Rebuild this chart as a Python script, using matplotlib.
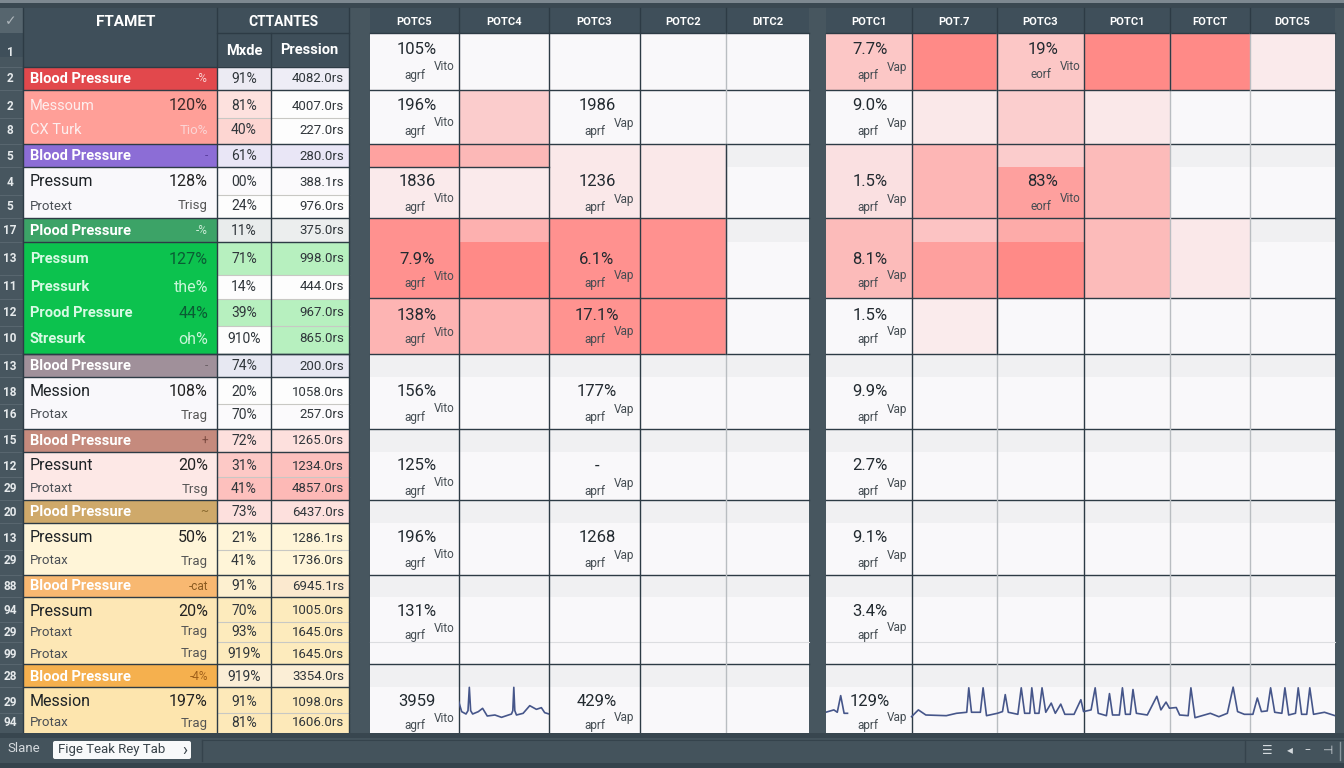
import numpy as np
import matplotlib
matplotlib.use("Agg")
import matplotlib.pyplot as plt
from matplotlib.colors import LinearSegmentedColormap, Normalize
from matplotlib.patches import FancyBboxPatch

# left table
row_numbers = ["2", "2", "8", "5", "4", "5", "17", "13", "11", "12", "10", "13", "18", "16",
               "15", "12", "29", "20", "13", "29", "88", "94", "29", "99", "28", "29", "94"]
names = ["Blood Pressure", "Messoum", "CX Turk", "Blood Pressure", "Pressum", "Protext",
         "Plood Pressure", "Pressum", "Pressurk", "Prood Pressure", "Stresurk",
         "Blood Pressure", "Mession", "Protax", "Blood Pressure", "Pressunt", "Protaxt",
         "Plood Pressure", "Pressum", "Protax", "Blood Pressure", "Pressum", "Protaxt", "Protax",
         "Blood Pressure", "Mession", "Protax"]
tags = ["-%", "120%", "Tio%", "-", "128%", "Trisg", "-%", "127%", "the%", "44%", "oh%",
        "-", "108%", "Trag", "+", "20%", "Trsg", "~", "50%", "Trag", "-cat", "20%", "Trag", "Trag",
        "-4%", "197%", "Trag"]
mode_vals = ["91%", "81%", "40%", "61%", "00%", "24%", "11%", "71%", "14%", "39%", "910%",
             "74%", "20%", "70%", "72%", "31%", "41%", "73%", "21%", "41%", "91%", "70%", "93%",
             "919%", "919%", "91%", "81%"]
pressure_vals = ["4082.0rs", "4007.0rs", "227.0rs", "280.0rs", "388.1rs", "976.0rs", "375.0rs",
                 "998.0rs", "444.0rs", "967.0rs", "865.0rs", "200.0rs", "1058.0rs", "257.0rs",
                 "1265.0rs", "1234.0rs", "4857.0rs", "6437.0rs", "1286.1rs", "1736.0rs",
                 "6945.1rs", "1005.0rs", "1645.0rs", "1645.0rs", "3354.0rs", "1098.0rs", "1606.0rs"]

# heat grids, -20 is the grey band
heat_a = [[0, 0, 0, 0, 0],
          [0, 40, 0, 0, 0],
          [78, 58, 15, 15, -20],
          [13, 13, 15, 15, 0],
          [93, 65, 93, 93, -20],
          [93, 100, 93, 93, 0],
          [62, 62, 92, 95, 0]]
heat_b = [[45, 100, 45, 100, 100, 13],
          [0, 15, 38, 15, 0, 0],
          [22, 60, 40, 55, -20, -20],
          [22, 60, 80, 55, 0, 0],
          [55, 48, 70, 55, 15, -20],
          [55, 80, 100, 55, 15, 0],
          [0, 12, 0, 0, 0, 0]]
heat_lower = [-20, 0, -20, 0, -20, 0, -20, 0, 0, -20, 0]

a_col0 = ["105%", "196%", "1836", "7.9%", "138%", "156%", "125%", "196%", "131%", "3959"]
a_col2 = ["", "1986", "1236", "6.1%", "17.1%", "177%", "-", "1268", "", "429%"]
b_col0 = ["7.7%", "9.0%", "1.5%", "8.1%", "1.5%", "9.9%", "2.7%", "9.1%", "3.4%", "129%"]
b_col2 = ["19%", "", "83%", "", "", "", "", "", "", ""]

head_a = ["POTC5", "POTC4", "POTC3", "POTC2", "DITC2"]
head_b = ["POTC1", "POT.7", "POTC3", "POTC1", "FOTCT", "DOTC5"]

# traces
trace_a_t = [296, 305, 318, 324, 328, 332, 338, 355, 368, 382, 405, 425, 455, 459, 462, 465, 470, 490,
             510, 530, 545, 555, 568]
trace_a_v = [47, 17, 10, 20, 90, 20, 10, 17, 27, 4, 7, 0, 10, 20, 90, 20, 7, 12, 35, 24, 29, 14, 10]
trace_b0_t = [46, 70, 80, 90, 100, 110]
trace_b0_v = [18, 25, 18, 67, 15, 15]
trace_b_t = [298, 318, 340, 400, 430, 460, 466, 474, 500, 508, 518, 550, 565, 573, 582, 610, 620, 630,
             645, 651, 660, 672, 681, 692, 708, 720, 736, 748, 775, 795, 803, 825, 837, 846, 870,
             879, 888, 908, 917, 926, 940, 948, 958, 990, 1018, 1030, 1045, 1055, 1075, 1085,
             1110, 1118, 1130, 1175, 1200, 1225, 1242, 1255, 1275, 1300, 1313, 1325, 1342, 1352,
             1364, 1385, 1394, 1405, 1425, 1433, 1443, 1458, 1467, 1478, 1510, 1541]
trace_b_v = [5, 25, 10, 8, 15, 18, 90, 18, 18, 90, 8, 15, 20, 70, 18, 12, 90, 15, 15, 90, 15,
             15, 90, 18, 45, 15, 42, 12, 12, 55, 20, 25, 90, 15, 8, 73, 10, 10, 90, 12, 12, 85,
             15, 10, 65, 25, 48, 30, 32, 10, 8, 90, 2, 15, 5, 15, 92, 20, 12, 12, 60, 20, 22, 90,
             18, 15, 90, 10, 15, 90, 12, 12, 90, 12, 18, 8]

# layout
W, H = 1344, 768
row_edges = [67, 90, 118, 144, 167, 195, 218, 242, 275, 299, 326, 354, 377, 404, 429, 452, 477, 500,
             523, 550, 575, 597, 622, 642, 664, 687, 713, 733]
label_y = [79, 106, 130, 156, 182, 206, 231, 259, 287, 313, 339, 366, 392, 415, 441, 466, 489, 512,
           538, 561, 586, 611, 632, 654, 677, 702, 723]
heat_edges = [33, 90, 144, 167, 218, 242, 298, 354, 377, 429, 452, 500, 523, 575, 597, 642, 664, 687, 733]
a_edges = [370, 458.7, 549, 639.5, 726, 809]
b_edges = [825.7, 911.5, 997, 1083.5, 1169.7, 1249.7, 1335]
block_y = [50, 106, 182, 259, 315, 392, 466, 538, 611, 701]
header_rows = {0, 3, 6, 11, 14, 17, 20, 24}
sub_rows = {2, 5, 13, 16, 19, 22, 23, 26}

name_colors = ["#e2484c", "#ff9f98", "#ff9f98", "#8c6dd6", "#f9f8fb", "#f9f8fb", "#3ca367",
               "#0cc24e", "#0cc24e", "#0cc24e", "#0cc24e", "#a0909a", "#f9f8fb", "#f9f8fb",
               "#c58a7d", "#fde8e6", "#fde8e6", "#cfa96a", "#fff5d8", "#fff5d8", "#f8b871",
               "#fde7b5", "#fde7b5", "#fde7b5", "#f5b04e", "#fde5ae", "#fde5ae"]
mode_colors = ["#ecebf3", "#fde1de", "#fdd6d2", "#e9e6f6", "#fbfafc", "#fdfdfd", "#e9ecec",
               "#b7f0bf", "#fdfdfd", "#b7f0bf", "#fdfdfd", "#e7e8f2", "#fdfdfd", "#fbfafc",
               "#fde0dd", "#fdc9c6", "#fdc0bd", "#fde0dd", "#fff5d8", "#fff5d8", "#fdf0d0",
               "#fdebbd", "#fdebbd", "#fdebbd", "#fbeed6", "#fde9b9", "#fde9b9"]
press_colors = ["#eeedf6", "#fdfdfd", "#fdfdfd", "#e9e6f6", "#fbfafc", "#fdfdfd", "#eceeee",
                "#b7f0bf", "#fdfdfd", "#b7f0bf", "#b7f0bf", "#e7e8f2", "#fdfdfd", "#fbfafc",
                "#fde0dd", "#fdc0bd", "#fdb9b6", "#fde0dd", "#fff5d8", "#fff5d8", "#fbe9cf",
                "#fdebbd", "#fdebbd", "#fdebbd", "#fbeed6", "#fde9b9", "#fde9b9"]
name_text = ["w", "w", "w", "w", "k", "k", "w", "w", "w", "w", "w", "w", "k", "k", "w", "k", "k",
             "w", "k", "k", "w", "k", "k", "k", "w", "k", "k"]
tag_text = ["#fbd5d5", "#3a2a2a", "#fbd5d5", "#5b3fa0", "#222222", "#555555", "#cfeeda", "#0a5c34",
            "#c8f5d8", "#0a5c34", "#c8f5d8", "#6b6066", "#222222", "#555555", "#7a4a40", "#222222",
            "#555555", "#8a6a30", "#222222", "#555555", "#8a5a20", "#222222", "#555555", "#555555",
            "#a0601a", "#222222", "#555555"]

BG = "#47565f"
HEAD = "#3f4f5a"
LINE = "#2d3b45"
SOFT = "#b9bdc1"
DARK = "#222a30"

heat_cmap = LinearSegmentedColormap.from_list(
    "heat", [(0, "#f0f0f2"), (20 / 120, "#f9f8fa"), (1, "#ff8a87")])
heat_norm = Normalize(-20, 100)


def draw_panel(ax, edges, heat, heads):
    grid = np.array(heat + [[v] * len(heads) for v in heat_lower])
    ax.pcolormesh(edges, heat_edges, grid, cmap=heat_cmap, norm=heat_norm, zorder=1)
    ax.barh(20.5, edges[-1] - edges[0], 25, left=edges[0], color=HEAD, zorder=1)
    for i, label in enumerate(heads):
        ax.text((edges[i] + edges[i + 1]) / 2, 22, label, color="white", fontsize=8,
                fontweight="bold", ha="center", va="center", zorder=5)
    for y in [33, 90, 144, 218, 298, 354, 429, 500, 575, 664]:
        ax.plot([edges[0], edges[-1]], [y, y], color=LINE, lw=1, zorder=3)
    ax.plot([edges[0], edges[-1]], [642, 642], color="#dcdde0", lw=0.8, zorder=2)


def draw_values(ax, x, values, sub, vito):
    for y, v in zip(block_y, values):
        if not v:
            continue
        ax.text(x, y, v, color=DARK, fontsize=12, ha="center", va="center", zorder=6)
        ax.text(x - 2, y + 25, sub, color="#444c52", fontsize=8.5, ha="center", va="center", zorder=6)
        ax.text(x + 27, y + 17, vito, color="#444c52", fontsize=8.5, ha="center", va="center", zorder=6)


def main():
    plt.rcParams["font.family"] = ["Roboto", "DejaVu Sans"]
    fig = plt.figure(figsize=(W / 100, H / 100), dpi=100, facecolor=BG)
    ax = fig.add_axes([0, 0, 1, 1])
    ax.set_xlim(0, W)
    ax.set_ylim(H, 0)
    ax.axis("off")

    # top strip and header block
    ax.barh(1.5, W, 3, left=0, color="#7d8890", zorder=1)
    ax.barh(5.5, W, 5, left=0, color="#3a4851", zorder=1)
    ax.barh(37.5, 349, 59, left=0, color=HEAD, zorder=1)
    ax.barh(20.5, 23, 25, left=0, color="#56656e", zorder=1)
    ax.barh(395, 23, 676, left=0, color=BG, zorder=1)
    ax.barh(37.5, 23, 59, left=0, color=BG, zorder=0)

    # left table cells
    tops = np.array(row_edges[:-1])
    bottoms = np.array(row_edges[1:])
    mids = (tops + bottoms) / 2
    hts = bottoms - tops
    ax.barh(mids, 194, hts, left=23, color=name_colors, zorder=2)
    ax.barh(mids, 53.5, hts, left=217, color=mode_colors, zorder=2)
    ax.barh(mids, 78, hts, left=271, color=press_colors, zorder=2)

    for i in range(27):
        y = label_y[i]
        if i in header_rows:
            size, weight, name_col = 10.5, "bold", "white"
        elif i in sub_rows:
            size, weight, name_col = 9.5, "normal", "#4a4f55"
        else:
            size, weight, name_col = 11.5, "normal", "#1d2226"
        if name_text[i] == "w":
            name_col = "#fdeeee" if i in (1, 2) else ("white" if i in header_rows else "#d8fae4")
            if i in (1, 2, 7, 8, 9, 10):
                size = 10.5
                weight = "bold" if i in (7, 8, 9, 10) else "normal"
        ax.text(30, y, names[i], color=name_col, fontsize=size, fontweight=weight, va="center", zorder=6)
        tag_size = 8.5 if i in header_rows else (9.5 if i in sub_rows else 11.5)
        ax.text(208, y, tags[i], color=tag_text[i], fontsize=tag_size, ha="right", va="center", zorder=6)
        ax.text(244, y, mode_vals[i], color="#30363b", fontsize=10, ha="center", va="center", zorder=6)
        ax.text(344, y, pressure_vals[i], color="#30363b", fontsize=9.5, ha="right", va="center", zorder=6)
        ax.text(10, y, row_numbers[i], color="#e6eaec", fontsize=8.5, fontweight="bold",
                ha="center", va="center", zorder=6)

    # left table rules
    for y in row_edges:
        ax.plot([217, 349], [y, y], color="#c8c8c4", lw=0.8, zorder=3)
        ax.plot([0, 23], [y, y], color="#5c6a73", lw=0.6, zorder=3)
    for i in sorted(header_rows):
        for y in row_edges[i:i + 2]:
            ax.plot([23, 349], [y, y], color=LINE, lw=1, zorder=4)
    ax.plot([23, 349], [354, 354], color=LINE, lw=1, zorder=4)
    ax.plot([217, 349], [33, 33], color=LINE, lw=1, zorder=4)
    for x, y0 in [(23, 8), (217, 8), (271, 33), (349, 8)]:
        ax.plot([x, x], [y0, 733], color=LINE, lw=1, zorder=4)

    # header text
    ax.text(11, 21, "\u2713", color="#aeb6bb", fontsize=10, ha="center", va="center", family="DejaVu Sans", zorder=6)
    ax.text(10, 53, "1", color="#e6eaec", fontsize=8.5, fontweight="bold", ha="center", va="center", zorder=6)
    ax.text(126, 22, "FTAMET", color="white", fontsize=11, fontweight="bold", ha="center", va="center", zorder=6)
    ax.text(283, 22, "CTTANTES", color="white", fontsize=10, fontweight="bold", ha="center", va="center", zorder=6)
    ax.text(244, 51, "Mxde", color="white", fontsize=10.5, fontweight="bold", ha="center", va="center", zorder=6)
    ax.text(309, 50, "Pression", color="white", fontsize=10.5, fontweight="bold", ha="center", va="center", zorder=6)

    # heat panels
    draw_panel(ax, a_edges, heat_a, head_a)
    draw_panel(ax, b_edges, heat_b, head_b)
    ax.plot([370, 549], [167, 167], color=LINE, lw=1, zorder=3)

    for x in a_edges[1:4] + b_edges[1:2] + b_edges[3:4]:
        ax.plot([x, x], [8, 733], color=LINE, lw=1, zorder=4)
    for x in a_edges[4:5] + b_edges[2:3] + b_edges[4:6]:
        ax.plot([x, x], [33, 733], color=SOFT, lw=1, zorder=4)
        ax.plot([x, x], [8, 33], color=LINE, lw=1, zorder=4)
    ax.plot([726, 726], [144, 354], color=LINE, lw=1, zorder=4)
    ax.plot([997, 997], [33, 354], color=LINE, lw=1, zorder=4)
    ax.plot([b_edges[4], b_edges[4]], [33, 90], color=LINE, lw=1, zorder=4)

    draw_values(ax, 417, a_col0, "agrf", "Vito")
    draw_values(ax, 597, a_col2, "aprf", "Vap")
    draw_values(ax, 870, b_col0, "aprf", "Vap")
    draw_values(ax, 1043, b_col2, "eorf", "Vito")

    # traces in the bottom row
    tr_a = fig.add_axes([a_edges[1] / W, (H - 733) / H, (a_edges[2] - a_edges[1]) / W, 53 / H])
    tr_a.set_xlim(296, 568)
    tr_a.set_ylim(-47, 112)
    tr_a.axis("off")
    tr_a.patch.set_alpha(0)
    tr_a.plot(trace_a_t, trace_a_v, color="#46568a", lw=1.2)

    tr_b = fig.add_axes([b_edges[0] / W, (H - 733) / H, (b_edges[-1] - b_edges[0]) / W, 53 / H])
    tr_b.set_xlim(46, 1541)
    tr_b.set_ylim(-43, 113)
    tr_b.axis("off")
    tr_b.patch.set_alpha(0)
    tr_b.plot(trace_b0_t, trace_b0_v, color="#46568a", lw=1.2)
    tr_b.plot(trace_b_t, trace_b_v, color="#46568a", lw=1.2)

    # bottom bar
    ax.barh(735.5, W, 5, left=0, color="#38464f", zorder=5)
    ax.barh(751, W, 26, left=0, color="#44535c", zorder=5)
    ax.barh(765.5, W, 5, left=0, color="#35434c", zorder=5)
    ax.text(24, 749, "Slane", color="#d5dade", fontsize=9.5, ha="center", va="center", zorder=7)
    tab = FancyBboxPatch((53, 741), 138, 18, boxstyle="round,pad=0,rounding_size=2",
                         facecolor="#f8f9fa", edgecolor="none", zorder=6)
    ax.add_patch(tab)
    ax.text(58, 750, "Fige Teak Rey Tab", color="#39434a", fontsize=9.5, va="center", zorder=7)
    ax.text(185, 750, "\u203a", color="#39434a", fontsize=12, ha="center", va="center", zorder=7)
    ax.plot([202, 202], [740, 761], color="#35434c", lw=1, zorder=7)
    ax.plot([202, W], [740, 740], color="#35434c", lw=0.8, zorder=7)
    ax.plot([1245, 1245], [740, 762], color="#35434c", lw=1, zorder=7)
    ax.plot([1340, 1340], [742, 760], color="#8a969d", lw=1, zorder=7)
    for x, glyph in zip([1267, 1290, 1307, 1328], ["\u2630", "\u25c2", "\u2013", "\u22a3"]):
        ax.text(x, 750, glyph, color="#d5dade", fontsize=8.5, ha="center", va="center",
                family="DejaVu Sans", zorder=7)

    fig.savefig("out.png", dpi=100)
    plt.close(fig)


if __name__ == "__main__":
    main()
